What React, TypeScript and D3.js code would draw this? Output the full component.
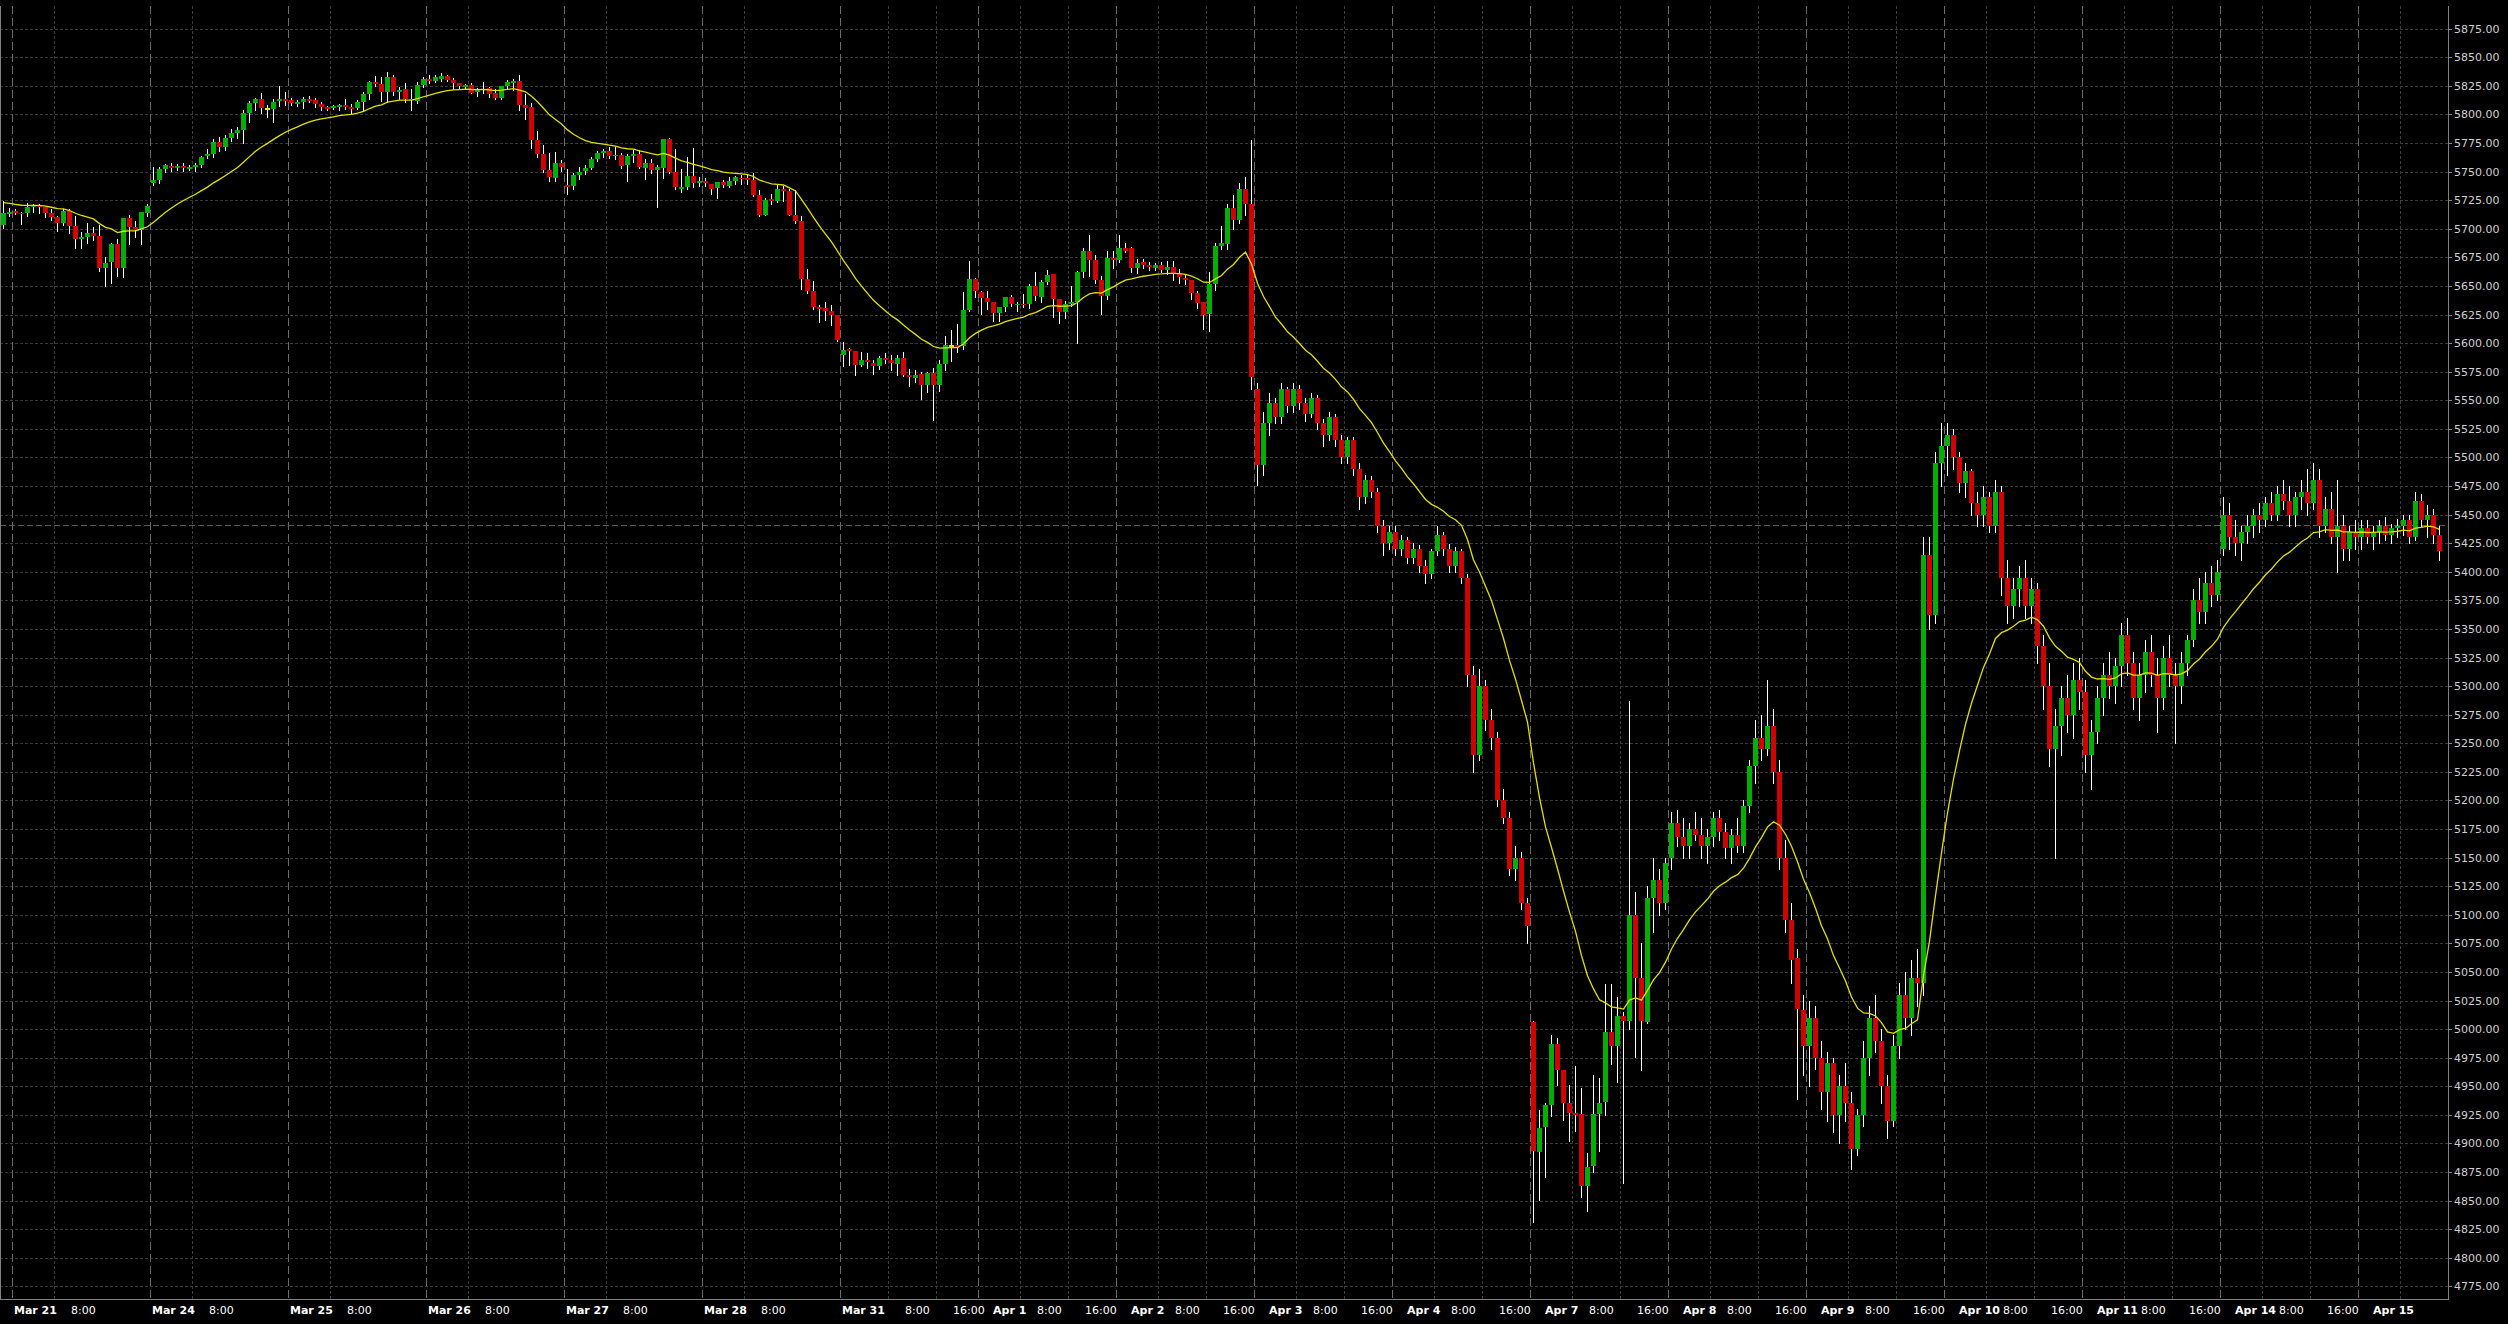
import React from 'react';
import * as d3 from 'd3';

const W = 2508;
const H = 1324;
const PLOT_R = 2448;
const PLOT_T = 6;
const PLOT_B = 1299;

// [open, high, low, close] per hourly bar
const ohlc: [number, number, number, number][] = [
  [5703, 5724.3, 5701, 5713.6], [5713, 5718, 5711.5, 5715], [5715.6, 5717, 5713, 5713.8], [5714, 5715, 5704, 5713],
  [5713.8, 5722.3, 5711.5, 5719], [5719.5, 5722, 5715, 5721], [5721, 5722, 5714, 5719.5], [5719, 5719.5, 5710.6, 5713.8],
  [5713.8, 5717, 5707.7, 5710], [5710, 5711.5, 5698, 5705.4], [5705, 5717, 5703.6, 5715.6], [5715.6, 5717, 5696.6, 5702.8],
  [5702.8, 5711, 5683.5, 5691], [5691, 5697, 5683.5, 5692.9], [5693, 5705, 5688, 5696.4], [5696.4, 5701.6, 5690, 5693.7],
  [5694, 5703.4, 5663.4, 5666], [5666, 5675, 5650.3, 5670], [5671.3, 5688, 5652.3, 5686.8], [5686.8, 5691, 5658.7, 5666],
  [5666, 5709.2, 5658, 5709.2], [5709.2, 5712, 5687, 5702], [5701.3, 5707, 5692.6, 5699], [5699, 5715, 5687, 5714.7],
  [5714, 5721.7, 5711.5, 5720], [5740.4, 5754.1, 5738.3, 5742.7], [5742.7, 5754.1, 5740.4, 5752.3], [5752.3, 5757, 5750, 5755.8],
  [5755, 5757.3, 5750.9, 5753.5], [5753.5, 5756.4, 5751.2, 5755.2], [5755.2, 5758, 5751, 5753.5], [5752.6, 5755.5, 5751.7, 5754.4],
  [5753.8, 5758, 5751, 5755.8], [5755.8, 5763.7, 5754.1, 5763.1], [5763.7, 5770.1, 5762, 5765.5], [5765.5, 5778.6, 5762.5, 5776],
  [5776, 5780.3, 5768.4, 5771.9], [5771.9, 5782, 5769, 5779.4], [5779.4, 5787.3, 5776.8, 5783.5], [5783.5, 5788.8, 5779.4, 5786.7],
  [5786.7, 5803.9, 5775.4, 5801.3], [5801.3, 5811.8, 5793.7, 5810], [5810, 5814.7, 5803.9, 5813.6], [5813.6, 5819.1, 5801.3, 5806],
  [5805.1, 5808, 5798.1, 5805.1], [5804.8, 5813.3, 5793.7, 5810.9], [5811.5, 5824.9, 5807.4, 5813.3], [5813.3, 5820, 5808, 5812.1],
  [5812.4, 5814.7, 5808.6, 5810.3], [5809.5, 5812.7, 5807.7, 5810.9], [5811.2, 5815, 5806, 5813.6], [5813.3, 5816.2, 5810.9, 5811.8],
  [5812.4, 5814.1, 5806.8, 5809.5], [5808.9, 5810.9, 5803.9, 5806.8], [5806.6, 5807.4, 5804.2, 5805.1], [5806, 5808.3, 5804.5, 5807.4],
  [5806.6, 5809.2, 5803.6, 5808.3], [5808, 5813.6, 5804.8, 5806.6], [5806.6, 5808.9, 5800.4, 5804.8], [5806, 5812.4, 5804.8, 5810.9],
  [5810.9, 5820, 5803.9, 5817.9], [5817.9, 5829.6, 5813.3, 5828.4], [5828.4, 5833.7, 5824.9, 5826.7], [5827, 5832.8, 5811.8, 5819.7],
  [5819.7, 5837.2, 5810.9, 5832.8], [5832.8, 5834.8, 5817, 5819.7], [5819.7, 5823.8, 5813.6, 5821.4], [5822.3, 5827.8, 5811.2, 5813.6],
  [5813.6, 5822.3, 5803.9, 5812.5], [5811.8, 5828.7, 5810.3, 5825.8], [5825.8, 5832.8, 5824, 5831], [5831, 5834.8, 5827.8, 5829.6],
  [5829.6, 5834.8, 5828.7, 5832.8], [5831.3, 5836.3, 5829.6, 5833.7], [5833.7, 5834.8, 5829.6, 5830.2], [5830.2, 5832.2, 5822.6, 5827.5],
  [5827.5, 5827.8, 5822.6, 5824.9], [5824, 5826.4, 5822.6, 5825.8], [5825.8, 5827.8, 5818.5, 5818.8], [5820, 5823.2, 5816.2, 5821.4],
  [5821, 5828.4, 5818.5, 5822.5], [5823.2, 5824, 5815, 5818], [5819.1, 5822, 5813.8, 5814.7], [5814.7, 5824.9, 5813.3, 5824.9],
  [5824.9, 5830.2, 5822, 5828.7], [5827.8, 5831.3, 5821.1, 5829.6], [5829.3, 5834.8, 5803.9, 5808.3], [5808.3, 5817.6, 5796.4, 5806],
  [5806.6, 5810, 5771, 5778], [5778, 5785.9, 5762.8, 5765.7], [5765.7, 5773.3, 5750, 5751.5], [5751.5, 5766.6, 5742.1, 5745.3],
  [5744.8, 5767.5, 5742.1, 5757.6], [5757.6, 5760.2, 5750.9, 5754.4], [5738.3, 5752.3, 5730.2, 5736.9], [5737.8, 5748.8, 5735.1, 5747.1],
  [5747.1, 5754.4, 5743.9, 5749.7], [5750.9, 5755.8, 5748.2, 5753.5], [5753.5, 5762.8, 5752.6, 5761.1], [5761.1, 5768.4, 5759.6, 5766.6],
  [5766.6, 5770.1, 5763.1, 5768.1], [5768.1, 5771.9, 5762, 5764], [5763.4, 5771.9, 5761.4, 5764.9], [5764.9, 5766.3, 5753.5, 5755],
  [5755.8, 5765.2, 5742.1, 5763.7], [5764, 5769.5, 5758.5, 5765.7], [5765.7, 5769, 5752.9, 5754.4], [5753.5, 5760.8, 5743.9, 5757.6],
  [5757.6, 5761.4, 5748.5, 5751.7], [5751.7, 5755.8, 5719.4, 5754.4], [5753.5, 5778.6, 5744.8, 5778.6], [5778.6, 5779.4, 5748.5, 5750],
  [5750, 5769.5, 5735.1, 5736.6], [5734.8, 5752.6, 5732.2, 5736.9], [5736.9, 5762.8, 5735.1, 5746.2], [5746.2, 5771, 5736.9, 5740.4],
  [5740.4, 5745.6, 5737.8, 5741.8], [5741.8, 5744.5, 5737.8, 5740], [5739.5, 5739.5, 5730.8, 5734.8], [5736, 5741, 5727.3, 5741],
  [5741, 5743, 5736.6, 5738.3], [5737.5, 5745.6, 5736.9, 5741.8], [5742, 5746.5, 5739, 5745], [5744.7, 5746.7, 5739.4, 5743.2],
  [5744.1, 5747, 5738.8, 5742.3], [5742.3, 5748.6, 5728.9, 5729.8], [5729.8, 5733.6, 5710.9, 5712.3], [5712.3, 5726.9, 5711.7, 5725.4],
  [5725.7, 5730.1, 5721.4, 5724], [5724.6, 5738.6, 5723.7, 5735.1], [5735.1, 5737.1, 5724.6, 5732.7], [5733.3, 5734.8, 5711.7, 5712.3],
  [5712.3, 5734.2, 5704.7, 5707.1], [5707.1, 5711.4, 5647.6, 5655.8], [5655.8, 5665.1, 5643.8, 5645.8], [5645.8, 5654.6, 5629.8, 5631.9],
  [5631.9, 5633, 5618.1, 5630.1], [5631, 5636.2, 5619.9, 5628.4], [5628.4, 5633.6, 5616.1, 5624.9], [5624.9, 5624.9, 5601.5, 5603],
  [5589.9, 5600.7, 5579.7, 5594.2], [5594.5, 5595.4, 5580.5, 5592.8], [5592.8, 5592.8, 5572.4, 5580.5], [5581.1, 5592.2, 5579.7, 5585.5],
  [5585.5, 5591.3, 5578.5, 5583.2], [5582.6, 5585.5, 5573.2, 5579.7], [5579.7, 5589, 5577, 5587.2], [5587.2, 5591.3, 5582.3, 5585.5],
  [5585.5, 5589.9, 5576.2, 5582.6], [5581.7, 5589.9, 5571.8, 5587.2], [5587.2, 5591.9, 5571.5, 5572.4], [5572.4, 5577.6, 5562.2, 5570],
  [5569.2, 5576.7, 5566.3, 5572.1], [5573.2, 5575, 5551.4, 5563], [5563, 5575, 5556.9, 5574.1], [5574.1, 5577.9, 5533, 5563],
  [5563, 5585.5, 5558, 5582], [5582, 5606.5, 5576.7, 5598.3], [5597.4, 5611.7, 5584, 5597.4], [5598.3, 5617, 5591.9, 5596.6],
  [5597.2, 5644.7, 5594.5, 5629.2], [5629.2, 5672.1, 5627.8, 5656.3], [5656.3, 5657.2, 5640, 5645.3], [5644.6, 5646, 5625.1, 5639.1],
  [5639.1, 5646, 5630, 5635.9], [5635.6, 5635.6, 5619.8, 5626.8], [5626.2, 5631.8, 5619, 5631.2], [5631.2, 5640.5, 5628, 5640.5],
  [5640.5, 5642, 5632.4, 5633.8], [5633, 5635.9, 5627.7, 5634.5], [5634.5, 5642.6, 5631.5, 5633], [5633.8, 5651.3, 5630.6, 5649.6],
  [5650.4, 5662.1, 5637.3, 5640.8], [5640.5, 5655.1, 5636.4, 5653.9], [5653.9, 5663.6, 5651.3, 5659.5], [5660.1, 5660.1, 5622.7, 5638.5],
  [5638.5, 5638.5, 5617.5, 5627.1], [5627.1, 5636.7, 5622.2, 5634.4], [5633.8, 5650.4, 5632.4, 5635.6], [5635.6, 5663, 5599.7, 5662.1],
  [5662.1, 5683.4, 5658, 5681], [5681, 5695, 5658.6, 5672.6], [5672.3, 5676.7, 5652.8, 5654.8], [5654.8, 5658.6, 5625.1, 5641.1],
  [5641.1, 5680.2, 5638.2, 5674.9], [5674.9, 5680.2, 5665.9, 5672.6], [5672.6, 5695, 5670.8, 5682.8], [5682.8, 5688, 5679.9, 5681],
  [5682.8, 5683.7, 5662.1, 5665.6], [5665.6, 5673.2, 5661.5, 5670], [5670.8, 5674, 5665.3, 5668.2], [5668.2, 5670.8, 5664.4, 5666.8],
  [5665.3, 5670.3, 5664.4, 5668.5], [5668.5, 5670.8, 5662.1, 5663.8], [5663.8, 5672, 5660.1, 5666.2], [5666.2, 5672, 5654.8, 5660.9],
  [5660.9, 5664.7, 5652.2, 5657.7], [5656.9, 5660.4, 5651.3, 5654.8], [5654.8, 5654.8, 5638.8, 5643.7], [5643.7, 5646, 5630.6, 5634.7],
  [5635.6, 5635.6, 5612, 5624.5], [5625.1, 5662.1, 5610.2, 5651.3], [5651.3, 5687.2, 5646.4, 5685.4], [5685.4, 5702.3, 5682, 5687.2],
  [5687, 5722, 5682, 5718], [5718, 5730, 5700, 5708], [5708, 5740, 5705, 5735], [5735, 5745, 5712, 5722],
  [5722, 5778, 5560, 5570], [5560, 5565, 5476, 5493], [5493, 5540, 5485, 5530], [5530, 5556, 5520, 5548],
  [5548, 5552, 5530, 5535], [5535, 5565, 5530, 5560], [5560, 5562, 5540, 5545], [5545, 5565, 5540, 5560],
  [5560, 5563, 5542, 5548], [5548, 5552, 5532, 5538], [5538, 5556, 5535, 5552], [5552, 5555, 5525, 5530],
  [5530, 5534, 5510, 5520], [5520, 5540, 5515, 5535], [5535, 5538, 5510, 5515], [5515, 5520, 5495, 5500],
  [5500, 5518, 5495, 5515], [5515, 5518, 5485, 5490], [5490, 5495, 5455, 5465], [5465, 5485, 5460, 5480],
  [5480, 5484, 5465, 5470], [5470, 5473, 5435, 5440], [5440, 5445, 5415, 5425], [5425, 5440, 5420, 5435],
  [5435, 5440, 5415, 5420], [5420, 5432, 5415, 5428], [5428, 5430, 5408, 5412], [5412, 5425, 5408, 5420],
  [5420, 5423, 5400, 5405], [5405, 5410, 5390, 5398], [5398, 5420, 5395, 5418], [5418, 5440, 5415, 5432],
  [5432, 5435, 5415, 5420], [5420, 5424, 5400, 5405], [5405, 5422, 5400, 5418], [5418, 5420, 5390, 5395],
  [5395, 5398, 5300, 5310], [5310, 5318, 5225, 5240], [5240, 5315, 5235, 5300], [5300, 5305, 5262, 5270],
  [5270, 5280, 5245, 5255], [5255, 5260, 5195, 5200], [5200, 5210, 5180, 5185], [5185, 5190, 5135, 5140],
  [5140, 5160, 5130, 5150], [5150, 5155, 5105, 5110], [5110, 5115, 5075, 5090],
  [5006.3, 5007.1, 4831.6, 4893.4], [4892.6, 4929.3, 4850.9, 4913.8], [4914.4, 4935.4, 4870.7, 4933.7], [4933.7, 4994.9, 4924.3, 4987],
  [4987, 4992, 4951.2, 4964.6], [4964.3, 4964.3, 4920.8, 4935.7], [4935.4, 4951.2, 4902.2, 4926.7], [4926.7, 4967.8, 4910.9, 4925.2],
  [4925.5, 4948.3, 4853.2, 4862.8], [4862.8, 4891.7, 4840.9, 4879.4], [4880.3, 4959.9, 4875.4, 4925.8], [4925.8, 4957.6, 4893.4, 4935.4],
  [4936.3, 5039.2, 4924.9, 4997.5], [4997.5, 5039.2, 4969.8, 4985.3], [4985.3, 5028.1, 4954.1, 5011.5], [5011.5, 5015, 4865.7, 5007.1],
  [5007.1, 5287, 5000, 5100], [5100, 5120, 4975.4, 5045], [5045, 5075, 4964.4, 5007.1], [5006.3, 5125, 5005.4, 5115],
  [5115, 5150, 5085, 5130], [5130, 5140, 5100, 5110], [5110, 5150, 5105, 5145],
  [5150, 5190, 5140, 5180], [5180, 5192, 5160, 5168], [5168, 5185, 5150, 5160], [5160, 5180, 5150, 5175],
  [5175, 5190, 5165, 5170], [5170, 5185, 5150, 5160], [5160, 5175, 5145, 5168], [5168, 5190, 5160, 5185],
  [5185, 5192, 5165, 5172], [5172, 5180, 5150, 5158], [5158, 5175, 5145, 5170], [5170, 5185, 5155, 5160],
  [5160, 5200, 5155, 5195], [5195, 5235, 5190, 5230], [5230, 5270, 5215, 5255], [5255, 5275, 5235, 5245],
  [5245, 5305, 5240, 5265], [5265, 5280, 5215, 5225], [5225, 5235, 5140, 5150], [5150, 5165, 5085, 5095],
  [5095, 5110, 5040, 5060], [5062, 5070, 4939.2, 5017.3], [5017, 5030, 4960, 4985],
  [4985, 5025, 4950, 5010], [5010, 5020, 4965, 4975], [4975, 4990, 4930, 4945], [4945, 4980, 4920, 4970],
  [4970, 4975, 4910, 4925], [4925, 4960, 4900, 4950], [4950, 4970, 4920, 4935], [4935, 4945, 4878, 4895],
  [4895, 4930, 4890, 4925], [4925, 4990, 4915, 4975], [4975, 5020, 4960, 5010], [5010, 5030, 4980, 4990],
  [4990, 5000, 4935, 4950], [4950, 4960, 4905, 4920], [4920, 4995, 4915, 4985], [4985, 5040, 4975, 5030],
  [5030, 5050, 5000, 5010], [5010, 5060, 4995, 5045], [5045, 5070, 5020, 5040], [5040, 5430, 5030, 5415],
  [5415, 5430, 5350, 5362], [5362, 5505, 5355, 5495], [5495, 5530, 5475, 5510],
  [5510, 5530, 5485, 5520], [5520, 5525, 5490, 5500], [5500, 5505, 5470, 5478], [5478, 5495, 5465, 5488],
  [5488, 5490, 5450, 5460], [5460, 5470, 5440, 5450], [5450, 5475, 5440, 5465], [5465, 5470, 5435, 5440],
  [5440, 5480, 5435, 5470], [5470, 5475, 5380, 5395], [5395, 5410, 5355, 5370], [5370, 5395, 5360, 5385],
  [5385, 5405, 5370, 5395], [5395, 5410, 5360, 5370], [5370, 5395, 5355, 5385], [5385, 5390, 5320, 5335],
  [5335, 5345, 5280, 5300], [5300, 5320, 5230, 5245], [5245, 5280, 5150, 5265], [5265, 5300, 5240, 5290],
  [5290, 5310, 5260, 5275], [5275, 5320, 5255, 5305], [5305, 5325, 5280, 5295],
  [5295, 5305, 5225, 5240], [5240, 5270, 5210, 5260], [5260, 5300, 5250, 5290], [5290, 5320, 5275, 5310],
  [5310, 5330, 5290, 5300], [5300, 5325, 5285, 5318], [5318, 5355, 5300, 5345], [5345, 5360, 5310, 5320],
  [5320, 5330, 5280, 5290], [5290, 5320, 5270, 5310], [5310, 5340, 5295, 5330], [5330, 5345, 5300, 5310],
  [5310, 5325, 5260, 5290], [5290, 5335, 5280, 5325], [5325, 5345, 5300, 5310], [5310, 5320, 5250, 5300],
  [5300, 5330, 5285, 5320], [5320, 5345, 5310, 5340], [5340, 5385, 5335, 5375], [5375, 5395, 5355, 5365],
  [5365, 5400, 5355, 5390], [5390, 5405, 5370, 5380], [5380, 5410, 5375, 5400],
  [5420, 5465, 5415, 5450], [5450, 5460, 5420, 5430], [5430, 5445, 5415, 5425], [5425, 5440, 5410, 5435],
  [5435, 5450, 5425, 5440], [5440, 5455, 5430, 5450], [5450, 5460, 5435, 5445], [5445, 5465, 5440, 5460],
  [5460, 5470, 5445, 5450], [5450, 5475, 5445, 5468], [5468, 5480, 5455, 5462], [5462, 5475, 5440, 5450],
  [5450, 5470, 5440, 5465], [5465, 5480, 5455, 5470], [5470, 5490, 5450, 5460], [5460, 5495, 5455, 5480],
  [5480, 5490, 5430, 5440], [5440, 5465, 5435, 5455], [5455, 5470, 5425, 5430], [5430, 5480, 5400, 5440],
  [5440, 5450, 5410, 5420], [5420, 5440, 5410, 5435], [5435, 5445, 5420, 5430],
  [5430, 5445, 5420, 5438], [5438, 5445, 5425, 5430], [5430, 5440, 5420, 5435], [5435, 5445, 5425, 5440],
  [5440, 5448, 5428, 5432], [5432, 5442, 5425, 5438], [5438, 5446, 5430, 5440], [5440, 5450, 5432, 5445],
  [5445, 5450, 5425, 5430], [5430, 5470, 5428, 5462], [5462, 5468, 5440, 5445], [5445, 5458, 5430, 5450],
  [5450, 5455, 5425, 5432], [5432, 5440, 5410, 5418],
];

// moving average: EMA(20) of closes, started from the value read at the first bar
const maPeriod = 20;
const maSeed = 5723;

// time axis: first bar of each session and intraday marks
const dayBars = [2, 25, 48, 71, 94, 117, 140, 163, 186, 209, 232, 255, 278, 301, 324, 347, 370, 393];
const dayLabels = ['Mar 21', 'Mar 24', 'Mar 25', 'Mar 26', 'Mar 27', 'Mar 28', 'Mar 31', 'Apr 1', 'Apr 2', 'Apr 3', 'Apr 4', 'Apr 7', 'Apr 8', 'Apr 9', 'Apr 10', 'Apr 11', 'Apr 14', 'Apr 15'];
// label offset (px) from the session line: March labels sit on it, April labels are pushed right
const dayLabelShift = [2, 2, 2, 2, 2, 2, 2, 15, 15, 15, 15, 15, 15, 15, 15, 15, 15, 15];
const timeBars = [9, 32, 55, 78, 101, 124, 148, 156, 170, 178, 193, 201, 216, 224, 239, 247, 262, 270, 285, 293, 308, 316, 331, 339, 354, 362, 377, 385, 400];
const timeLabels = ['8:00', '8:00', '8:00', '8:00', '8:00', '8:00', '8:00', '16:00', '8:00', '16:00', '8:00', '16:00', '8:00', '16:00', '8:00', '16:00', '8:00', '16:00', '8:00', '16:00', '8:00', '16:00', '8:00', '16:00', '8:00', '16:00', '8:00', '16:00', ''];

const priceMin = 4775;
const priceMax = 5875;
const priceStep = 25;
const refPrice = 5441;

const GREEN = '#00b000';
const RED = '#d40000';

export default function App() {
  const x = d3.scaleLinear().domain([0, 408]).range([0, PLOT_R]);
  const y = d3.scaleLinear().domain([4763.9, 5894.9]).range([PLOT_B, PLOT_T]);
  const ticks = d3.range(priceMin, priceMax + 1, priceStep);

  const ma: number[] = [];
  const k = 2 / (maPeriod + 1);
  ohlc.forEach((d, i) => {
    ma.push(i === 0 ? maSeed : ma[i - 1] + k * (d[3] - ma[i - 1]));
  });
  const maLine = d3
    .line<number>()
    .x((_, i) => x(i) + 3.5)
    .y((v) => y(v));

  const font = 'DejaVu Sans, Verdana, sans-serif';

  return (
    <svg width={W} height={H} style={{ position: 'absolute', left: 0, top: 0, background: '#000' }}>
      <rect x={0} y={0} width={W} height={H} fill="#000" />
      <g shapeRendering="crispEdges">
        {ticks.map((t) => (
          <line key={'h' + t} x1={0} x2={PLOT_R} y1={Math.round(y(t)) + 0.5} y2={Math.round(y(t)) + 0.5} stroke="#3a3a3a" strokeDasharray="3,2" />
        ))}
        {timeBars.map((b) => (
          <line key={'vt' + b} x1={x(b) + 0.5} x2={x(b) + 0.5} y1={PLOT_T} y2={PLOT_B} stroke="#3a3a3a" strokeDasharray="3,2" />
        ))}
        {dayBars.map((b) => (
          <line key={'vd' + b} x1={x(b) + 0.5} x2={x(b) + 0.5} y1={PLOT_T} y2={PLOT_B} stroke="#6a6a6a" strokeDasharray="8,4" />
        ))}
        <line x1={0} x2={PLOT_R} y1={Math.round(y(refPrice)) + 0.5} y2={Math.round(y(refPrice)) + 0.5} stroke="#5a5a5a" strokeDasharray="6,3" />
      </g>
      <g shapeRendering="crispEdges">
        {ohlc.map((d, i) => {
          const [o, h, l, c] = d;
          const cx = x(i) + 3.5;
          const yt = Math.round(y(Math.max(o, c)));
          const yb = Math.round(y(Math.min(o, c)));
          const doji = Math.abs(o - c) < 0.3;
          return (
            <g key={i}>
              <line x1={cx} x2={cx} y1={Math.round(y(h))} y2={Math.round(y(l)) + 1} stroke="#ffffff" strokeWidth={1} />
              {doji ? (
                <rect x={x(i) + 1} y={yt - 1} width={5} height={2} fill="#e8e800" />
              ) : (
                <rect x={x(i) + 1} y={yt} width={5} height={Math.max(1, yb - yt)} fill={c > o ? GREEN : RED} />
              )}
            </g>
          );
        })}
      </g>
      <path d={maLine(ma) || ''} fill="none" stroke="#e0e000" strokeWidth={1.3} />
      <g shapeRendering="crispEdges">
        <line x1={0.5} x2={0.5} y1={PLOT_T} y2={PLOT_B} stroke="#808080" />
        <line x1={PLOT_R + 0.5} x2={PLOT_R + 0.5} y1={PLOT_T} y2={PLOT_B + 1} stroke="#808080" />
        <line x1={0} x2={PLOT_R + 1} y1={PLOT_B + 0.5} y2={PLOT_B + 0.5} stroke="#808080" />
        {ticks.map((t) => (
          <line key={'tk' + t} x1={PLOT_R} x2={PLOT_R + 4} y1={Math.round(y(t)) + 0.5} y2={Math.round(y(t)) + 0.5} stroke="#808080" />
        ))}
      </g>
      {ticks.map((t) => (
        <text key={'pl' + t} x={PLOT_R + 6} y={y(t) + 4} fill="#d0d0d0" fontSize={11} fontFamily={font}>
          {t.toFixed(2)}
        </text>
      ))}
      {dayBars.map((b, i) => (
        <text key={'dl' + b} x={x(b) + dayLabelShift[i]} y={1314} fill="#ffffff" fontSize={11} fontWeight="bold" fontFamily={font}>
          {dayLabels[i]}
        </text>
      ))}
      {timeBars.map((b, i) =>
        timeLabels[i] ? (
          <text key={'tl' + b} x={x(b) + 17} y={1314} fill="#ffffff" fontSize={11} fontFamily={font}>
            {timeLabels[i]}
          </text>
        ) : null
      )}
    </svg>
  );
}
